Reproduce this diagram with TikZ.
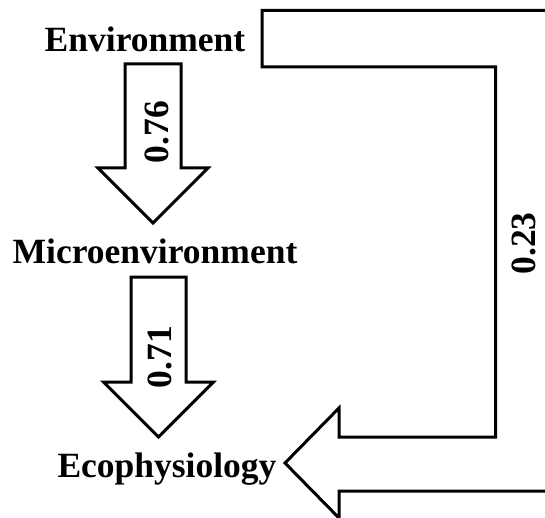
\documentclass[tikz,border=0pt]{standalone}
\usepackage{fontspec}
\setmainfont{Liberation Serif}
\begin{document}
\begin{tikzpicture}[x=1pt,y=-1pt,
  lbl/.style={font=\fontsize{35.5}{41}\selectfont\bfseries, inner sep=0pt},
  blockarrow/.style={draw=black, line width=3pt, fill=white, line join=miter}]
\useasboundingbox (0,0) rectangle (545,518);
\clip (0,0) rectangle (545,518);
% labels
\node[lbl, anchor=base] (env) at (145,52) {Environment};
\node[lbl, anchor=base] (micro) at (155,263) {Microenvironment};
\node[lbl, anchor=base] (eco) at (167,477) {Ecophysiology};
% arrow 1
\draw[blockarrow] (125,64) -- (181,64) -- (181,168) -- (208,168) -- (153,223)
  -- (98,168) -- (125,168) -- cycle;
\node[lbl, rotate=90] (a1) at (157,132) {0.76};
% arrow 2
\draw[blockarrow] (131,277) -- (186,277) -- (186,382) -- (213.5,382) -- (158.5,437)
  -- (103.5,382) -- (131,382) -- cycle;
\node[lbl, rotate=90] (a2) at (160,357) {0.71};
% big L arrow
\draw[blockarrow, fill=none] (570,10.5) -- (262,10.5) -- (262,67) -- (495.5,67) -- (495.5,437)
  -- (339,437) -- (339,408) -- (285,463) -- (339,518) -- (339,491) -- (570,491);
\node[lbl, rotate=90] (a3) at (524,243.5) {0.23};
\end{tikzpicture}
\end{document}
